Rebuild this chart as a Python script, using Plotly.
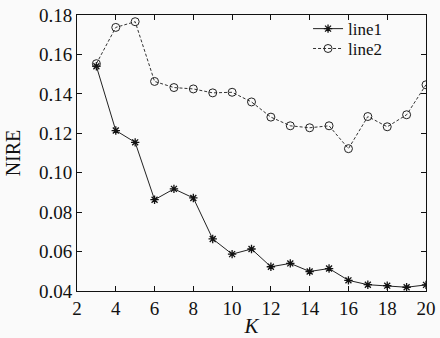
import plotly.graph_objects as go

K = list(range(3, 21))
line1 = [0.154, 0.1214, 0.1154, 0.0863, 0.0918, 0.0872, 0.0664, 0.0587, 0.0613,
         0.0523, 0.0540, 0.0499, 0.0514, 0.0454, 0.0432, 0.0427, 0.0419, 0.0431]
line2 = [0.1553, 0.1737, 0.1766, 0.1463, 0.1432, 0.1425, 0.1405, 0.1408, 0.1359,
         0.1282, 0.1238, 0.1228, 0.1238, 0.1122, 0.1285, 0.1233, 0.1294, 0.1446]
names = ["line1", "line2"]
xticks = list(range(2, 21, 2))
yticks = [0.04, 0.06, 0.08, 0.10, 0.12, 0.14, 0.16, 0.18]

FONT = "Liberation Serif"
fig = go.Figure()
fig.add_trace(go.Scatter(x=K, y=line1, name=names[0], mode="lines+markers",
                         line=dict(color="#222", width=1), legend="legend",
                         marker=dict(symbol="asterisk-open", size=7, color="#111",
                                     line=dict(width=1.3, color="#111"))))
fig.add_trace(go.Scatter(x=K, y=line2, name=names[1], mode="lines+markers",
                         line=dict(color="#333", width=1, dash="3px,2px"), legend="legend2",
                         marker=dict(symbol="circle-open", size=8, color="#222",
                                     line=dict(width=1, color="#222"))))
axis_common = dict(showgrid=False, zeroline=False, showline=True, linecolor="#111",
                   linewidth=1, mirror="ticks", ticks="inside", ticklen=5,
                   tickcolor="#111", automargin=False,
                   tickfont=dict(family=FONT, size=19, color="#111"))
fig.update_xaxes(range=[2, 20], tickvals=xticks, **axis_common,
                 title=dict(text="<i>K</i>", font=dict(family=FONT, size=21, color="#111"), standoff=0))
fig.update_yaxes(range=[0.04, 0.18], tickvals=yticks,
                 ticktext=[f"{v:.2f}" for v in yticks], **axis_common,
                 title=dict(text="NIRE", font=dict(family=FONT, size=20, color="#111"), standoff=12))
leg = dict(x=0.662, xanchor="left", yanchor="middle", bgcolor="rgba(0,0,0,0)",
           borderwidth=0, font=dict(family=FONT, size=17, color="#111"), itemwidth=30)
fig.update_layout(width=440, height=338, margin=dict(l=77, r=14, t=15, b=47, autoexpand=False),
                  paper_bgcolor="#fafafa", plot_bgcolor="#fafafa",
                  legend=dict(y=0.949, **leg),
                  legend2=dict(y=0.877, **leg),
                  showlegend=True)
fig.write_html("out.html", config={"displayModeBar": False},
               post_script="document.body.style.margin='0px';")
